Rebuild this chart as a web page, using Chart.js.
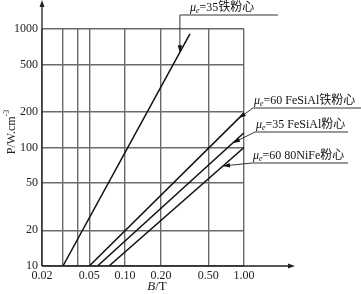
<!DOCTYPE html>
<html>
<head>
<meta charset="utf-8">
<script src="https://cdn.jsdelivr.net/npm/chart.js@4"></script>
<style>
  body { margin: 0; background: #fff; }
  canvas { display: block; }
</style>
</head>
<body>
<canvas id="chart" width="361" height="294"></canvas>
<script>
// curve names, as labelled on the figure
const seriesNames = ['μe=35铁粉心', 'μe=60 FeSiAl铁粉心', 'μe=35 FeSiAl粉心', 'μe=60 80NiFe粉心'];

// B (T) and P (W/cm3) at the two ends of each straight curve
const bFe35   = [0.030, 0.351];
const pFe35   = [10, 908];
const bSiAl60 = [0.050, 1.0];
const pSiAl60 = [10, 195];
const bSiAl35 = [0.0586, 1.0];
const pSiAl35 = [10, 133];
const bNiFe60 = [0.0732, 1.0];
const pNiFe60 = [10, 100];

// where each label's arrow meets its curve (B value)
const arrowAtB = [0.289, 0.908, 0.807, 0.665];

const xTickVals = [0.02, 0.03, 0.04, 0.05, 0.1, 0.2, 0.5, 1];
const xTickText = ['0.02', '', '', '0.05', '0.10', '0.20', '0.50', '1.00'];
const yTickVals = [10, 20, 50, 100, 200, 500, 1000];

const seriesB = [bFe35, bSiAl60, bSiAl35, bNiFe60];
const seriesP = [pFe35, pSiAl60, pSiAl35, pNiFe60];

const SERIF = '"Liberation Serif", "Times New Roman", "Noto Sans CJK SC", serif';
const GRID  = '#6a6a6a';
const INK   = '#111';

function pAt(bs, ps, b) {
  // log-log interpolation along one curve
  const t = Math.log(b / bs[0]) / Math.log(bs[1] / bs[0]);
  return Math.exp(Math.log(ps[0]) + t * Math.log(ps[1] / ps[0]));
}

function arrowHead(ctx, fx, fy, tx, ty, len, half) {
  const ang = Math.atan2(ty - fy, tx - fx);
  ctx.beginPath();
  ctx.moveTo(tx, ty);
  ctx.lineTo(tx - len * Math.cos(ang) + half * Math.sin(ang), ty - len * Math.sin(ang) - half * Math.cos(ang));
  ctx.lineTo(tx - len * Math.cos(ang) - half * Math.sin(ang), ty - len * Math.sin(ang) + half * Math.cos(ang));
  ctx.closePath();
  ctx.fill();
}

function drawMuLabel(ctx, txt, x, base) {
  ctx.textAlign = 'left';
  ctx.textBaseline = 'alphabetic';
  ctx.font = 'italic 12px ' + SERIF;
  ctx.fillText(txt[0], x, base);
  x += ctx.measureText(txt[0]).width;
  ctx.font = 'italic 8px ' + SERIF;
  ctx.fillText(txt[1], x, base + 2);
  x += ctx.measureText(txt[1]).width;
  ctx.font = '12px ' + SERIF;
  ctx.fillText(txt.slice(2), x, base);
}

// label layout: text start, baseline, underline y and right end
const labelLayout = [
  { tx: 190, base: 11,  uy: 15,  ux1: 278 },
  { tx: 254, base: 104, uy: 108, ux1: 361 },
  { tx: 256, base: 128, uy: 132, ux1: 348 },
  { tx: 253, base: 159, uy: 163, ux1: 348 }
];

const decorations = {
  id: 'decorations',
  afterDraw(chart) {
    const { ctx, chartArea: a, scales: { x, y } } = chart;
    ctx.save();

    // axes with arrows
    ctx.strokeStyle = '#222';
    ctx.fillStyle = '#222';
    ctx.lineWidth = 1.3;
    ctx.beginPath();
    ctx.moveTo(a.left, a.bottom);
    ctx.lineTo(a.left, 3);
    ctx.moveTo(a.left, a.bottom);
    ctx.lineTo(291, a.bottom);
    ctx.stroke();
    arrowHead(ctx, a.left, 20, a.left, 0, 7, 2.5);
    arrowHead(ctx, 280, a.bottom, 295, a.bottom, 7, 2.5);

    // axis titles
    ctx.fillStyle = '#222';
    ctx.textBaseline = 'middle';
    ctx.textAlign = 'left';
    ctx.font = 'italic 13px ' + SERIF;
    const bw = ctx.measureText('B').width;
    ctx.font = '13px ' + SERIF;
    const tw = ctx.measureText('/T').width;
    let sx = 157 - (bw + tw) / 2;
    ctx.font = 'italic 13px ' + SERIF;
    ctx.fillText('B', sx, 287);
    ctx.font = '13px ' + SERIF;
    ctx.fillText('/T', sx + bw, 287);

    ctx.save();
    ctx.translate(12, 132);
    ctx.rotate(-Math.PI / 2);
    ctx.font = '12px ' + SERIF;
    const mainW = ctx.measureText('P/W.cm').width;
    ctx.font = '8px ' + SERIF;
    const supW = ctx.measureText('-3').width;
    let px = -(mainW + supW) / 2;
    ctx.font = '12px ' + SERIF;
    ctx.fillText('P/W.cm', px, 0);
    ctx.font = '8px ' + SERIF;
    ctx.fillText('-3', px + mainW, -5);
    ctx.restore();

    // curve labels with leaders
    ctx.fillStyle = INK;
    ctx.strokeStyle = '#333';
    ctx.lineWidth = 1;
    seriesNames.forEach((name, i) => {
      const L = labelLayout[i];
      const b = arrowAtB[i];
      const tipX = x.getPixelForValue(b);
      const tipY = y.getPixelForValue(pAt(seriesB[i], seriesP[i], b));
      const ux0 = i === 0 ? tipX : L.tx - 1;
      drawMuLabel(ctx, name, L.tx, L.base);
      ctx.beginPath();
      ctx.moveTo(ux0, L.uy);
      ctx.lineTo(L.ux1, L.uy);
      ctx.moveTo(ux0, L.uy);
      ctx.lineTo(tipX, tipY);
      ctx.stroke();
      arrowHead(ctx, ux0, L.uy, tipX, tipY, 7, 2.2);
    });

    ctx.restore();
  }
};

const datasets = seriesNames.map((name, i) => ({
  label: name,
  data: seriesB[i].map((b, k) => ({ x: b, y: seriesP[i][k] })),
  showLine: true,
  borderColor: INK,
  borderWidth: 1.5,
  pointRadius: 0,
  tension: 0
}));

new Chart(document.getElementById('chart'), {
  type: 'scatter',
  data: { datasets },
  options: {
    responsive: false,
    animation: false,
    layout: { padding: { left: 0, top: 29, right: 117, bottom: 0 } },
    plugins: { legend: { display: false }, tooltip: { enabled: false } },
    scales: {
      x: {
        type: 'logarithmic',
        min: 0.02,
        max: 1,
        afterBuildTicks: s => { s.ticks = xTickVals.map(v => ({ value: v })); },
        afterFit: s => { s.height = 28; },
        grid: { color: GRID, lineWidth: 1.4, drawTicks: false },
        border: { display: false },
        ticks: {
          autoSkip: false,
          maxRotation: 0,
          padding: 3,
          color: '#222',
          font: { family: SERIF, size: 12 },
          callback: v => xTickText[xTickVals.indexOf(v)]
        }
      },
      y: {
        type: 'logarithmic',
        min: 10,
        max: 1000,
        afterBuildTicks: s => { s.ticks = yTickVals.map(v => ({ value: v })); },
        afterFit: s => { s.width = 42; },
        grid: { color: GRID, lineWidth: 1.4, drawTicks: false },
        border: { display: false },
        ticks: {
          autoSkip: false,
          padding: 4,
          color: '#222',
          font: { family: SERIF, size: 12 },
          callback: v => String(v)
        }
      }
    }
  },
  plugins: [decorations]
});
</script>
</body>
</html>
